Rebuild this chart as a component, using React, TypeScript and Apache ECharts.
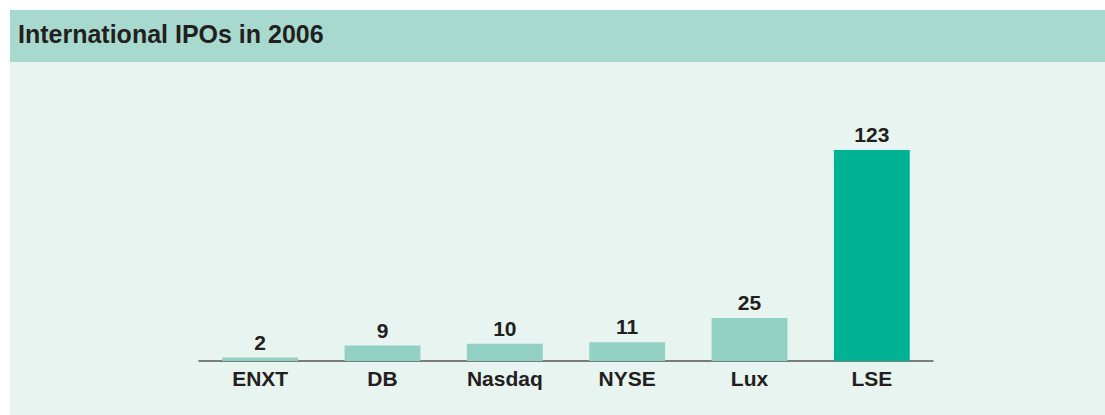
import React, { useEffect, useRef } from "react";
import * as echarts from "echarts";

const categories = ["ENXT", "DB", "Nasdaq", "NYSE", "Lux", "LSE"];
const ipoCounts = [2, 9, 10, 11, 25, 123];
const highlightCategory = "LSE";
const titleText = "International IPOs in 2006";

const FONT = "'Liberation Sans', Arial, Helvetica, sans-serif";

export default function App() {
  const ref = useRef<HTMLDivElement>(null);
  useEffect(() => {
    if (!ref.current) return;
    const chart = echarts.init(ref.current, undefined, { renderer: "svg" });
    chart.setOption({
      animation: false,
      backgroundColor: "#ffffff",
      graphic: [
        { type: "rect", left: 10, top: 10, shape: { width: 1095, height: 405 }, style: { fill: "#e8f4f0" }, z: -10 },
        { type: "rect", left: 10, top: 10, shape: { width: 1095, height: 52 }, style: { fill: "#a7d9ce" }, z: -9 },
        {
          type: "text",
          left: 18,
          top: 21,
          style: { text: titleText, fill: "#231f20", font: `bold 25px ${FONT}` },
          z: 5,
        },
      ],
      grid: { left: 199, right: 172, top: 150, bottom: 54, containLabel: false },
      xAxis: {
        type: "category",
        data: categories,
        axisLine: { show: true, lineStyle: { color: "#555555", width: 1.5 } },
        axisTick: { show: false },
        axisLabel: {
          color: "#231f20",
          fontFamily: FONT,
          fontSize: 21,
          fontWeight: "bold",
          margin: 7,
        },
      },
      yAxis: {
        type: "value",
        min: 0,
        max: 123,
        show: false,
        splitLine: { show: false },
      },
      series: [
        {
          type: "bar",
          barWidth: "62%",
          data: ipoCounts.map((v, i) => ({
            value: v,
            itemStyle: { color: categories[i] === highlightCategory ? "#00b294" : "#93d1c4" },
          })),
          label: {
            show: true,
            position: "top",
            distance: 5,
            color: "#231f20",
            fontFamily: FONT,
            fontSize: 21,
            fontWeight: "bold",
          },
        },
      ],
    });
    return () => chart.dispose();
  }, []);
  return (
    <div
      ref={ref}
      style={{ position: "fixed", left: 0, top: 0, width: 1105, height: 415 }}
    />
  );
}
